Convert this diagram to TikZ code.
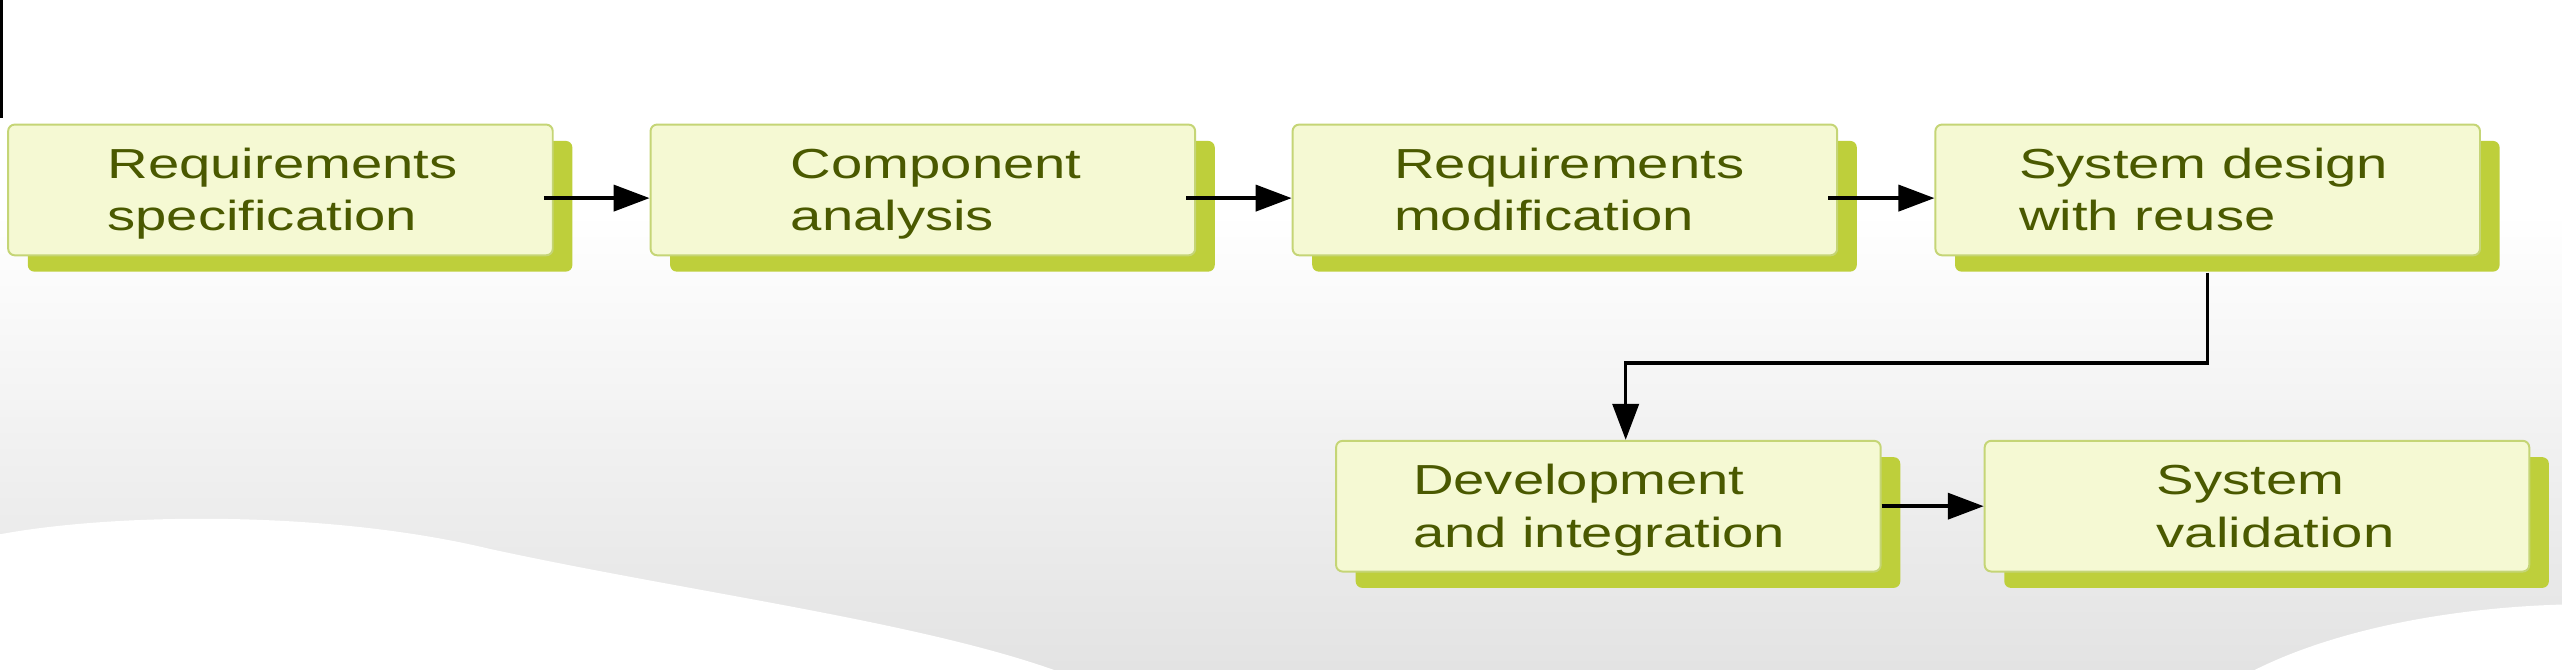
\documentclass[tikz,border=0pt]{standalone}
\usepackage{fontspec}
\setmainfont{Liberation Sans}[FakeStretch=1.34]
\usetikzlibrary{shadows,arrows.meta}
\definecolor{boxfill}{HTML}{F5F9D3}
\definecolor{boxline}{HTML}{C5D576}
\definecolor{shadowgreen}{HTML}{BECF3B}
\definecolor{txtgreen}{HTML}{4A5900}
\begin{document}
\begin{tikzpicture}[x=0.5pt,y=-0.5pt,
  box/.style={draw=boxline, line width=0.6pt, fill=boxfill, rounded corners=2pt,
    minimum width=166.65pt, minimum height=40pt, inner sep=0pt,
    drop shadow={shadow xshift=6pt, shadow yshift=-5pt, fill=shadowgreen, opacity=1, draw=none}},
  lbl/.style={text=txtgreen, font=\fontsize{12.85}{16}\selectfont, align=left, anchor=west, inner sep=0pt},
  arr/.style={draw=black, line width=1.05pt, -{Triangle[length=11pt,width=8pt]}}]
% background
\fill[white] (0,0) rectangle (1568,410);
\shade[top color=white, bottom color=black!11] (0,130) rectangle (1568,410);
\fill[white] (0,327) .. controls (70,314) and (200,312) .. (300,336) .. controls (420,362) and (560,380) .. (645,410) -- (0,410) -- cycle;
\fill[white] (1380,410) .. controls (1430,385) and (1500,372) .. (1568,370) -- (1568,410) -- cycle;
\fill[black] (0,0) rectangle (2,72);
\useasboundingbox (0,0) rectangle (1568,410);
% boxes
\node[box] (b1) at (171.65,116.25) {};
\node[box] (b2) at (564.8,116.25) {};
\node[box] (b3) at (957.75,116.25) {};
\node[box] (b4) at (1351.15,116.25) {};
\node[box] (b5) at (984.35,309.8) {};
\node[box] (b6) at (1381.3,309.8) {};
% labels
\node[lbl] (t1) at ([xshift=30.5pt,yshift=-1.3pt]b1.west) {\strut Requirements\\specification\strut};
\node[lbl] (t2) at ([xshift=43pt,yshift=-1.3pt]b2.west) {\strut Component\\analysis\strut};
\node[lbl] (t3) at ([xshift=31.15pt,yshift=-1.3pt]b3.west) {\strut Requirements\\modification\strut};
\node[lbl] (t4) at ([xshift=25.75pt,yshift=-1.3pt]b4.west) {\strut System design\\with reuse\strut};
\node[lbl] (t5) at ([xshift=23.65pt,yshift=-1.3pt]b5.west) {\strut Development\\and integration\strut};
\node[lbl] (t6) at ([xshift=52.75pt,yshift=-1.3pt]b6.west) {\strut System\\validation\strut};
% connectors
\draw[arr] ([xshift=-3pt,yshift=-2.5pt]b1.east) -- ([yshift=-2.5pt]b2.west);
\draw[arr] ([xshift=-3pt,yshift=-2.5pt]b2.east) -- ([yshift=-2.5pt]b3.west);
\draw[arr] ([xshift=-3pt,yshift=-2.5pt]b3.east) -- ([yshift=-2.5pt]b4.west);
\coordinate (turn) at (995,222.3);
\draw[arr] ([yshift=-5pt]b4.south) |- (turn) -| ([xshift=5.3pt]b5.north);
\draw[arr] (b5.east) -- (b6.west);
\end{tikzpicture}
\end{document}
